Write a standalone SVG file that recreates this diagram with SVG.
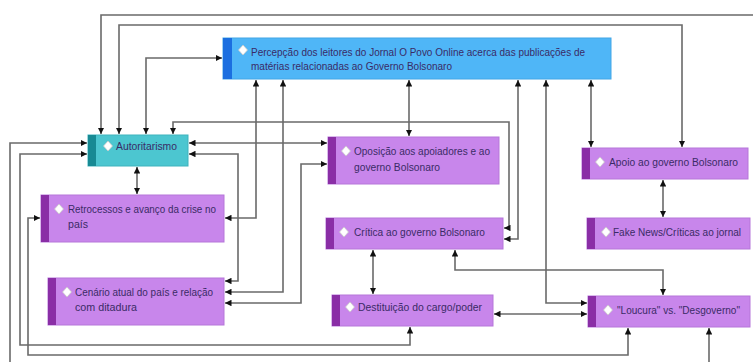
<svg xmlns="http://www.w3.org/2000/svg" width="753" height="362" viewBox="0 0 753 362">
<style>
.ln{fill:none;stroke:#6a6a6a;stroke-width:1.6}
.t{font-family:"Liberation Sans",Arial,sans-serif;font-size:10px;fill:#3a2b66}
.pu{fill:#c886eb;stroke:#b676d9;stroke-width:1}
.ps{fill:#8a2ea6}
.dm{fill:#fff;stroke:#c8c8c8;stroke-width:0.8}
</style>
<defs>
<marker id="a" viewBox="0 0 10 10" refX="10" refY="5" markerWidth="6.5" markerHeight="6.5" markerUnits="userSpaceOnUse" orient="auto-start-reverse">
<path d="M0,0 L10,5 L0,10 z" fill="#111"/>
</marker>
</defs>
<rect width="753" height="362" fill="#fff"/>
<g id="connectors">
<path class="ln" d="M753,15 H101 V134" marker-end="url(#a)"/>
<path class="ln" d="M119,134 V25 H682 V147" marker-start="url(#a)" marker-end="url(#a)"/>
<path class="ln" d="M146,134 V58 H222" marker-start="url(#a)" marker-end="url(#a)"/>
<path class="ln" d="M173,134 V122 H509 V228 H504" marker-start="url(#a)" marker-end="url(#a)"/>
<path class="ln" d="M518,80 V239 H504" marker-start="url(#a)" marker-end="url(#a)"/>
<path class="ln" d="M546,80 V303 H587" marker-start="url(#a)" marker-end="url(#a)"/>
<path class="ln" d="M591,80 V147" marker-start="url(#a)" marker-end="url(#a)"/>
<path class="ln" d="M409,80 V136" marker-start="url(#a)" marker-end="url(#a)"/>
<path class="ln" d="M256,80 V218 H225" marker-start="url(#a)" marker-end="url(#a)"/>
<path class="ln" d="M283,80 V292 H225" marker-start="url(#a)" marker-end="url(#a)"/>
<path class="ln" d="M189,154 H238 V281 H225" marker-start="url(#a)" marker-end="url(#a)"/>
<path class="ln" d="M189,143 H327" marker-start="url(#a)" marker-end="url(#a)"/>
<path class="ln" d="M327,164 H301 V303 H225" marker-start="url(#a)" marker-end="url(#a)"/>
<path class="ln" d="M87,143 H10 V362" marker-start="url(#a)"/>
<path class="ln" d="M87,154 H20 V345 H410 V327" marker-start="url(#a)" marker-end="url(#a)"/>
<path class="ln" d="M40,218 H28 V355 H628 V328" marker-start="url(#a)" marker-end="url(#a)"/>
<path class="ln" d="M709,362 V328" marker-end="url(#a)"/>
<path class="ln" d="M137,167 V194" marker-start="url(#a)" marker-end="url(#a)"/>
<path class="ln" d="M373,250 V294" marker-start="url(#a)" marker-end="url(#a)"/>
<path class="ln" d="M455,250 V270 H663 V295" marker-start="url(#a)" marker-end="url(#a)"/>
<path class="ln" d="M663,180 V217" marker-start="url(#a)" marker-end="url(#a)"/>
<path class="ln" d="M494,314 H587" marker-start="url(#a)" marker-end="url(#a)"/>
</g>
<g id="percepcao">
<rect x="223" y="38" width="388" height="41" fill="#4fb6f7" stroke="#43a6e6" stroke-width="1"/>
<rect x="223" y="38" width="9" height="41" fill="#1b6fe0"/>
<polygon class="dm" points="243,45 247.5,50 243,55 238.5,50"/>
<text class="t" x="251" y="55.5" textLength="334" lengthAdjust="spacingAndGlyphs">Percepção dos leitores do Jornal O Povo Online acerca das publicações de</text>
<text class="t" x="251" y="69.5" textLength="201" lengthAdjust="spacingAndGlyphs">matérias relacionadas ao Governo Bolsonaro</text>
</g>
<g id="autoritarismo">
<rect x="88" y="135" width="100" height="31" fill="#4cc6d0" stroke="#3eb3bd" stroke-width="1"/>
<rect x="88" y="135" width="8" height="31" fill="#178a94"/>
<polygon class="dm" points="108,141 112.5,146 108,151 103.5,146"/>
<text class="t" x="116" y="149.5" textLength="61" lengthAdjust="spacingAndGlyphs">Autoritarismo</text>
</g>
<g id="oposicao">
<rect class="pu" x="328" y="137" width="171" height="47"/>
<rect class="ps" x="328" y="137" width="8" height="47"/>
<polygon class="dm" points="346,146 350.5,151 346,156 341.5,151"/>
<text class="t" x="354" y="154.5" textLength="136" lengthAdjust="spacingAndGlyphs">Oposição aos apoiadores e ao</text>
<text class="t" x="354" y="170.5" textLength="86" lengthAdjust="spacingAndGlyphs">governo Bolsonaro</text>
</g>
<g id="apoio">
<rect class="pu" x="582" y="148" width="166" height="31"/>
<rect class="ps" x="582" y="148" width="8" height="31"/>
<polygon class="dm" points="600,157 604.5,162 600,167 595.5,162"/>
<text class="t" x="609" y="165.5" textLength="129" lengthAdjust="spacingAndGlyphs">Apoio ao governo Bolsonaro</text>
</g>
<g id="retrocessos">
<rect class="pu" x="41" y="195" width="183" height="47"/>
<rect class="ps" x="41" y="195" width="8" height="47"/>
<polygon class="dm" points="59,204 63.5,209 59,214 54.5,209"/>
<text class="t" x="68" y="212.5" textLength="148" lengthAdjust="spacingAndGlyphs">Retrocessos e avanço da crise no</text>
<text class="t" x="68" y="227.5" textLength="20" lengthAdjust="spacingAndGlyphs">país</text>
</g>
<g id="critica">
<rect class="pu" x="326" y="218" width="177" height="31"/>
<rect class="ps" x="326" y="218" width="8" height="31"/>
<polygon class="dm" points="344,227 348.5,232 344,237 339.5,232"/>
<text class="t" x="354" y="235.5" textLength="131" lengthAdjust="spacingAndGlyphs">Crítica ao governo Bolsonaro</text>
</g>
<g id="fakenews">
<rect class="pu" x="587" y="218" width="163" height="31"/>
<rect class="ps" x="587" y="218" width="8" height="31"/>
<polygon class="dm" points="606,227 610.5,232 606,237 601.5,232"/>
<text class="t" x="613" y="235.5" textLength="128" lengthAdjust="spacingAndGlyphs">Fake News/Críticas ao jornal</text>
</g>
<g id="cenario">
<rect class="pu" x="48" y="278" width="176" height="47"/>
<rect class="ps" x="48" y="278" width="8" height="47"/>
<polygon class="dm" points="67,287 71.5,292 67,297 62.5,292"/>
<text class="t" x="75" y="295.5" textLength="138" lengthAdjust="spacingAndGlyphs">Cenário atual do país e relação</text>
<text class="t" x="75" y="310.5" textLength="62" lengthAdjust="spacingAndGlyphs">com ditadura</text>
</g>
<g id="destituicao">
<rect class="pu" x="332" y="295" width="161" height="31"/>
<rect class="ps" x="332" y="295" width="8" height="31"/>
<polygon class="dm" points="350,302 354.5,307 350,312 345.5,307"/>
<text class="t" x="358" y="310.5" textLength="124" lengthAdjust="spacingAndGlyphs">Destituição do cargo/poder</text>
</g>
<g id="loucura">
<rect class="pu" x="588" y="296" width="162" height="31"/>
<rect class="ps" x="588" y="296" width="8" height="31"/>
<polygon class="dm" points="608,305 612.5,310 608,315 603.5,310"/>
<text class="t" x="617" y="313.5" textLength="123" lengthAdjust="spacingAndGlyphs">"Loucura" vs. "Desgoverno"</text>
</g>
</svg>
